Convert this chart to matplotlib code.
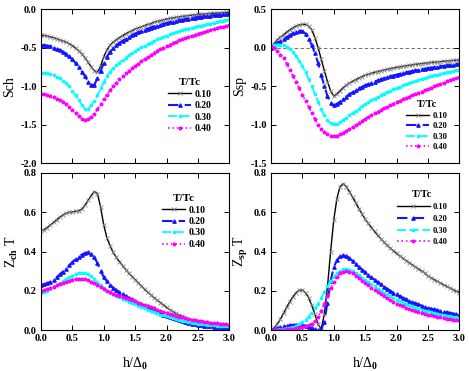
import numpy as np
import matplotlib
matplotlib.use("Agg")
import matplotlib.pyplot as plt

plt.rcParams['font.family'] = ['Liberation Serif', 'DejaVu Serif']
plt.rcParams['font.weight'] = 'bold'
plt.rcParams['axes.unicode_minus'] = False
plt.rcParams['mathtext.fontset'] = 'custom'
plt.rcParams['mathtext.rm'] = 'Liberation Serif:bold'
plt.rcParams['mathtext.it'] = 'Liberation Serif:bold'
plt.rcParams['mathtext.bf'] = 'Liberation Serif:bold'

# field h/Delta0, sampled every 0.05
h = np.linspace(0.0, 3.0, 61)
temps = ['0.10', '0.20', '0.30', '0.40']

s_ch_010 = [-0.34, -0.343, -0.35, -0.36, -0.37, -0.385, -0.40, -0.415, -0.43, -0.45,
            -0.475, -0.505, -0.54, -0.58, -0.63, -0.69, -0.75, -0.80, -0.82, -0.74,
            -0.62, -0.53, -0.47, -0.43, -0.40, -0.37, -0.345, -0.32, -0.30, -0.28,
            -0.26, -0.245, -0.23, -0.215, -0.20, -0.19, -0.17, -0.16, -0.15, -0.14,
            -0.13, -0.122, -0.115, -0.108, -0.102, -0.096, -0.09, -0.085, -0.08, -0.075,
            -0.071, -0.067, -0.063, -0.06, -0.057, -0.054, -0.051, -0.048, -0.046, -0.044,
            -0.042]
s_ch_020 = [-0.47, -0.47, -0.475, -0.485, -0.50, -0.515, -0.53, -0.555, -0.58, -0.61,
            -0.65, -0.70, -0.75, -0.81, -0.87, -0.94, -0.99, -0.98, -0.90, -0.80,
            -0.70, -0.62, -0.555, -0.51, -0.47, -0.44, -0.41, -0.385, -0.36, -0.34,
            -0.32, -0.30, -0.285, -0.27, -0.255, -0.24, -0.227, -0.215, -0.203, -0.192,
            -0.182, -0.172, -0.163, -0.154, -0.146, -0.138, -0.131, -0.124, -0.117, -0.111,
            -0.105, -0.10, -0.095, -0.09, -0.085, -0.081, -0.077, -0.073, -0.069, -0.066,
            -0.063]
s_ch_030 = [-0.825, -0.827, -0.835, -0.845, -0.86, -0.88, -0.90, -0.93, -0.96, -1.00,
            -1.06, -1.12, -1.18, -1.24, -1.29, -1.29, -1.25, -1.19, -1.12, -1.03,
            -0.95, -0.87, -0.81, -0.77, -0.73, -0.695, -0.66, -0.63, -0.60, -0.57,
            -0.545, -0.52, -0.495, -0.475, -0.455, -0.435, -0.415, -0.395, -0.378, -0.361,
            -0.345, -0.33, -0.316, -0.302, -0.289, -0.277, -0.265, -0.254, -0.243, -0.233,
            -0.223, -0.214, -0.205, -0.196, -0.188, -0.18, -0.165, -0.157, -0.15, -0.142,
            -0.135]
s_ch_040 = [-1.105, -1.108, -1.115, -1.125, -1.14, -1.16, -1.18, -1.205, -1.235, -1.27,
            -1.31, -1.35, -1.39, -1.42, -1.435, -1.43, -1.40, -1.355, -1.30, -1.235,
            -1.17, -1.11, -1.05, -1.00, -0.955, -0.91, -0.87, -0.835, -0.80, -0.77,
            -0.74, -0.71, -0.68, -0.65, -0.622, -0.595, -0.57, -0.545, -0.522, -0.50,
            -0.48, -0.46, -0.442, -0.424, -0.407, -0.391, -0.375, -0.36, -0.346, -0.332,
            -0.319, -0.306, -0.294, -0.282, -0.271, -0.26, -0.249, -0.239, -0.229, -0.22,
            -0.212]

s_sp_010 = [0.0, 0.05, 0.10, 0.135, 0.165, 0.20, 0.23, 0.255, 0.28, 0.295,
            0.30, 0.30, 0.28, 0.23, 0.13, 0.0, -0.15, -0.30, -0.44, -0.56,
            -0.63, -0.60, -0.56, -0.52, -0.49, -0.46, -0.435, -0.415, -0.395, -0.375,
            -0.36, -0.345, -0.333, -0.321, -0.31, -0.30, -0.29, -0.281, -0.272, -0.264,
            -0.256, -0.249, -0.242, -0.235, -0.229, -0.223, -0.217, -0.212, -0.207, -0.202,
            -0.197, -0.193, -0.189, -0.185, -0.181, -0.177, -0.173, -0.17, -0.166, -0.163,
            -0.16]
s_sp_020 = [0.0, 0.03, 0.06, 0.085, 0.11, 0.135, 0.16, 0.185, 0.205, 0.22,
            0.215, 0.18, 0.11, 0.03, -0.07, -0.20, -0.35, -0.50, -0.63, -0.72,
            -0.75, -0.73, -0.70, -0.665, -0.635, -0.605, -0.58, -0.555, -0.53, -0.51,
            -0.49, -0.472, -0.455, -0.44, -0.425, -0.411, -0.398, -0.385, -0.373, -0.362,
            -0.351, -0.341, -0.331, -0.322, -0.313, -0.304, -0.296, -0.288, -0.281, -0.274,
            -0.267, -0.261, -0.255, -0.249, -0.243, -0.238, -0.232, -0.227, -0.222, -0.217,
            -0.212]
s_sp_030 = [0.02, 0.035, 0.04, 0.04, 0.03, 0.01, -0.02, -0.06, -0.11, -0.17,
            -0.24, -0.32, -0.41, -0.50, -0.60, -0.70, -0.80, -0.88, -0.94, -0.98,
            -0.99, -0.985, -0.965, -0.94, -0.91, -0.88, -0.85, -0.82, -0.79, -0.76,
            -0.735, -0.71, -0.685, -0.662, -0.64, -0.618, -0.598, -0.578, -0.559, -0.541,
            -0.524, -0.507, -0.491, -0.476, -0.461, -0.447, -0.433, -0.42, -0.407, -0.395,
            -0.383, -0.372, -0.361, -0.351, -0.341, -0.331, -0.322, -0.313, -0.304, -0.296,
            -0.288]
s_sp_040 = [0.02, 0.0, -0.04, -0.09, -0.14, -0.21, -0.29, -0.37, -0.45, -0.53,
            -0.61, -0.69, -0.77, -0.85, -0.93, -1.00, -1.05, -1.095, -1.125, -1.14,
            -1.145, -1.14, -1.125, -1.105, -1.08, -1.055, -1.03, -1.00, -0.975, -0.95,
            -0.925, -0.90, -0.875, -0.852, -0.829, -0.807, -0.786, -0.765, -0.745, -0.725,
            -0.706, -0.687, -0.669, -0.652, -0.635, -0.618, -0.602, -0.586, -0.571, -0.556,
            -0.535, -0.518, -0.501, -0.485, -0.469, -0.453, -0.438, -0.423, -0.409, -0.395,
            -0.38]

z_ch_010 = [0.505, 0.512, 0.522, 0.535, 0.548, 0.562, 0.575, 0.586, 0.595, 0.60,
            0.602, 0.605, 0.608, 0.615, 0.635, 0.66, 0.685, 0.705, 0.695, 0.625,
            0.535, 0.47, 0.43, 0.395, 0.37, 0.348, 0.328, 0.308, 0.29, 0.272,
            0.256, 0.24, 0.224, 0.208, 0.193, 0.179, 0.165, 0.152, 0.14, 0.127,
            0.115, 0.104, 0.094, 0.085, 0.077, 0.07, 0.063, 0.057, 0.052, 0.047,
            0.043, 0.039, 0.035, 0.032, 0.029, 0.027, 0.025, 0.023, 0.021, 0.019,
            0.018]
z_ch_020 = [0.23, 0.233, 0.238, 0.246, 0.255, 0.268, 0.283, 0.298, 0.313, 0.329,
            0.345, 0.36, 0.373, 0.384, 0.392, 0.395, 0.388, 0.37, 0.34, 0.30,
            0.27, 0.248, 0.23, 0.215, 0.203, 0.192, 0.182, 0.173, 0.164, 0.156,
            0.148, 0.14, 0.132, 0.124, 0.116, 0.108, 0.10, 0.093, 0.086, 0.079,
            0.072, 0.066, 0.06, 0.055, 0.05, 0.045, 0.041, 0.037, 0.033, 0.03,
            0.027, 0.024, 0.022, 0.02, 0.018, 0.016, 0.014, 0.013, 0.012, 0.011,
            0.01]
z_ch_030 = [0.19, 0.194, 0.20, 0.208, 0.217, 0.227, 0.238, 0.248, 0.258, 0.268,
            0.277, 0.284, 0.29, 0.293, 0.29, 0.283, 0.273, 0.259, 0.243, 0.227,
            0.212, 0.20, 0.19, 0.181, 0.173, 0.166, 0.159, 0.152, 0.145, 0.138,
            0.131, 0.124, 0.117, 0.11, 0.103, 0.097, 0.091, 0.085, 0.079, 0.074,
            0.069, 0.064, 0.059, 0.055, 0.051, 0.047, 0.044, 0.041, 0.038, 0.035,
            0.033, 0.031, 0.029, 0.027, 0.025, 0.024, 0.022, 0.021, 0.02, 0.019,
            0.018]
z_ch_040 = [0.20, 0.204, 0.209, 0.215, 0.221, 0.228, 0.234, 0.24, 0.246, 0.251,
            0.256, 0.26, 0.262, 0.261, 0.258, 0.253, 0.246, 0.238, 0.229, 0.219,
            0.209, 0.20, 0.192, 0.185, 0.178, 0.172, 0.166, 0.161, 0.156, 0.151,
            0.146, 0.14, 0.134, 0.128, 0.122, 0.116, 0.11, 0.104, 0.098, 0.092,
            0.087, 0.082, 0.077, 0.072, 0.068, 0.064, 0.06, 0.056, 0.053, 0.05,
            0.047, 0.044, 0.042, 0.04, 0.038, 0.036, 0.034, 0.032, 0.03, 0.029,
            0.028]

z_sp_010 = [0.0, 0.01, 0.03, 0.055, 0.085, 0.115, 0.145, 0.17, 0.19, 0.202,
            0.203, 0.19, 0.165, 0.125, 0.08, 0.03, 0.005, 0.08, 0.22, 0.40,
            0.56, 0.67, 0.73, 0.745, 0.73, 0.705, 0.677, 0.648, 0.619, 0.591,
            0.565, 0.543, 0.522, 0.502, 0.483, 0.465, 0.448, 0.432, 0.417, 0.403,
            0.39, 0.378, 0.366, 0.354, 0.343, 0.332, 0.321, 0.311, 0.301, 0.291,
            0.275, 0.266, 0.257, 0.248, 0.239, 0.23, 0.222, 0.214, 0.206, 0.198,
            0.19]
z_sp_020 = [0.0, 0.003, 0.008, 0.013, 0.018, 0.021, 0.024, 0.026, 0.027, 0.028,
            0.026, 0.022, 0.016, 0.01, 0.005, 0.002, 0.006, 0.04, 0.14, 0.25,
            0.32, 0.355, 0.375, 0.383, 0.378, 0.366, 0.352, 0.337, 0.322, 0.308,
            0.295, 0.281, 0.268, 0.256, 0.244, 0.232, 0.221, 0.21, 0.20, 0.19,
            0.181, 0.172, 0.164, 0.156, 0.149, 0.142, 0.136, 0.13, 0.124, 0.119,
            0.114, 0.109, 0.105, 0.101, 0.097, 0.093, 0.09, 0.087, 0.084, 0.081,
            0.079]
z_sp_030 = [0.0, 0.001, 0.002, 0.004, 0.006, 0.009, 0.012, 0.016, 0.022, 0.03,
            0.04, 0.053, 0.068, 0.087, 0.11, 0.135, 0.163, 0.193, 0.222, 0.248,
            0.27, 0.288, 0.302, 0.31, 0.312, 0.308, 0.30, 0.29, 0.279, 0.267,
            0.256, 0.244, 0.233, 0.222, 0.211, 0.201, 0.191, 0.181, 0.172, 0.163,
            0.155, 0.147, 0.14, 0.133, 0.126, 0.12, 0.114, 0.109, 0.104, 0.099,
            0.095, 0.091, 0.087, 0.083, 0.079, 0.076, 0.073, 0.07, 0.067, 0.064,
            0.062]
z_sp_040 = [0.0, 0.0, 0.0, 0.001, 0.002, 0.003, 0.004, 0.006, 0.008, 0.011,
            0.014, 0.018, 0.024, 0.033, 0.046, 0.068, 0.098, 0.135, 0.175, 0.213,
            0.245, 0.27, 0.288, 0.298, 0.30, 0.296, 0.288, 0.277, 0.265, 0.252,
            0.24, 0.227, 0.215, 0.203, 0.192, 0.181, 0.171, 0.161, 0.152, 0.143,
            0.135, 0.127, 0.12, 0.113, 0.107, 0.101, 0.096, 0.091, 0.086, 0.082,
            0.078, 0.074, 0.07, 0.067, 0.064, 0.061, 0.058, 0.056, 0.053, 0.051,
            0.049]

styles = [
    dict(color='black', ls='-', lw=1.0, marker='x', ms=3.0, mec='#8a8a8a', mew=0.6),
    dict(color='#1515ff', ls=(0, (5, 3)), lw=1.5, marker='^', ms=2.4, mec='#1515ff'),
    dict(color='cyan', ls=(0, (5, 2)), lw=1.3, marker='s', ms=1.6, mec='cyan'),
    dict(color='magenta', ls=':', lw=1.2, marker='*', ms=2.6, mec='magenta'),
]

fig = plt.figure(figsize=(4.69, 3.71), dpi=100)
ax_tl = fig.add_axes([0.0874, 0.5598, 0.4015, 0.4159])
ax_tr = fig.add_axes([0.5778, 0.5598, 0.4015, 0.4159])
ax_bl = fig.add_axes([0.0874, 0.1105, 0.4015, 0.4232])
ax_br = fig.add_axes([0.5778, 0.1105, 0.4015, 0.4232])

panels = [
    (ax_tl, [s_ch_010, s_ch_020, s_ch_030, s_ch_040], (-2.0, 0.0), 0.5, 'Sch'),
    (ax_tr, [s_sp_010, s_sp_020, s_sp_030, s_sp_040], (-1.5, 0.5), 0.5, 'Ssp'),
    (ax_bl, [z_ch_010, z_ch_020, z_ch_030, z_ch_040], (0.0, 0.8), 0.2, r'Z$_{\mathrm{ch}}$ T'),
    (ax_br, [z_sp_010, z_sp_020, z_sp_030, z_sp_040], (0.0, 0.8), 0.2, r'Z$_{\mathrm{sp}}$ T'),
]

for ax, series, ylim, ystep, ylab in panels:
    for y, t, st in zip(series, temps, styles):
        ax.plot(h, y, label=t, **st)
    ax.set_xlim(0, 3.0)
    ax.set_ylim(*ylim)
    ax.set_xticks(np.arange(0, 3.01, 0.5))
    ax.set_yticks(np.arange(ylim[0], ylim[1] + 1e-9, ystep))
    ax.yaxis.set_major_formatter(matplotlib.ticker.FormatStrFormatter('%.1f'))
    ax.xaxis.set_major_formatter(matplotlib.ticker.FormatStrFormatter('%.1f'))
    ax.tick_params(direction='in', top=True, right=True, length=3.5, width=0.7,
                   labelsize=7.5, pad=3)
    for sp in ax.spines.values():
        sp.set_linewidth(0.8)
    ax.set_ylabel(ylab, fontsize=10, labelpad=3)

ax_tr.axhline(0.0, color='#555555', ls=(0, (4, 3)), lw=0.6, zorder=0)

for ax in (ax_tl, ax_tr):
    ax.tick_params(labelbottom=False)
for ax in (ax_bl, ax_br):
    ax.set_xlabel('h/Δ$_0$', fontsize=10, labelpad=9)

# legend anchor x, y, font size, title size, handle length, row spacing
leg_pos = {ax_tl: (0.675, 0.55, 7.0, 8.0, 2.4, 0.25),
           ax_tr: (0.717, 0.41, 6.0, 7.5, 2.8, 0.3),
           ax_bl: (0.643, 0.865, 7.0, 8.0, 2.4, 0.25),
           ax_br: (0.67, 0.89, 6.0, 7.5, 3.9, 0.45)}
for ax, (lx, ly, fs, tfs, hl, lsp) in leg_pos.items():
    leg = ax.legend(loc='upper left', bbox_to_anchor=(lx, ly), frameon=False,
                    title='T/Tc', fontsize=fs, title_fontsize=tfs,
                    handlelength=hl, handletextpad=0.35, labelspacing=lsp,
                    borderpad=0.0, borderaxespad=0.0)
    leg.get_title().set_fontweight('bold')

fig.savefig('out.png', dpi=100)
